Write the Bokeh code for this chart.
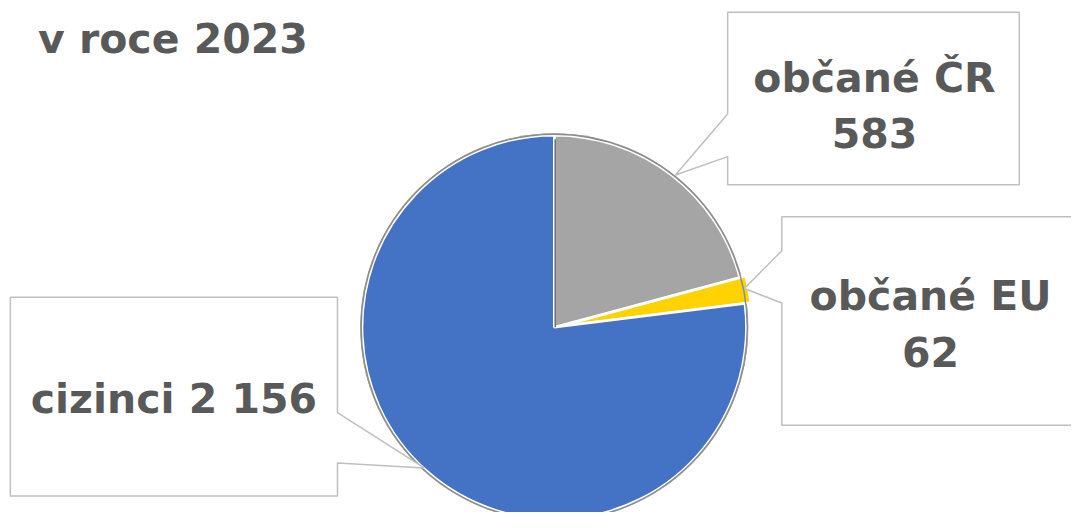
import math
from bokeh.plotting import figure
from bokeh.models import Range1d, ColumnDataSource
from bokeh.core.properties import value
from bokeh.embed import file_html
from bokeh.resources import INLINE

# ---- data ----
categories = ["občané ČR", "občané EU", "cizinci"]
counts = [583, 62, 2156]
colors = ["#A5A5A5", "#FFD200", "#4472C4"]
title_text = "v roce 2023"

W, H = 1071, 512
PW, PH = 1087, 528     # reference picture size

def X(px):
    return px

def Y(py):
    return PH - py

p = figure(width=W, height=H, output_backend="svg", toolbar_location=None,
           x_range=Range1d(0, PW), y_range=Range1d(0, PH),
           x_axis_type=None, y_axis_type=None, min_border=0)
p.grid.visible = False
p.outline_line_color = None
p.background_fill_color = "white"
p.border_fill_color = "white"

# ---- pie ----
cx, cy, r = 562, 337, 195
total = sum(counts)
starts, ends, xs, ys = [], [], [], []
cum = 0.0
explode = [0, 6, 0]
for c, e in zip(counts, explode):
    a0 = math.pi / 2 - 2 * math.pi * cum / total
    cum += c
    a1 = math.pi / 2 - 2 * math.pi * cum / total
    mid = (a0 + a1) / 2
    starts.append(a0)
    ends.append(a1)
    xs.append(X(cx) + e * math.cos(mid))
    ys.append(Y(cy) + e * math.sin(mid))

src = ColumnDataSource(dict(x=xs, y=ys, start=starts, end=ends, color=colors))
p.circle(x=[X(cx)], y=[Y(cy)], radius=r + 2, fill_color="#9a9a9a", line_color=None)
p.wedge(x="x", y="y", radius=r, start_angle="start", end_angle="end",
        direction="clock", fill_color="color", line_color="white",
        line_width=2.5, source=src)
p.circle(x=[X(cx)], y=[Y(cy)], radius=r + 1, fill_color=None,
         line_color="#8c8c8c", line_width=1.5)
# darker edge along the vertical start radius of the grey slice
p.segment(x0=[X(cx) + 1], y0=[Y(cy)], x1=[X(cx) + 1], y1=[Y(cy) + r - 1],
          line_color="#6f6f6f", line_width=1.5)

# ---- callouts (box + pointer), in picture pixels ----
callouts = [
    [(738, 12), (1034, 12), (1034, 190), (738, 190), (738, 161), (685, 180), (738, 117)],
    [(793, 223), (1100, 223), (1100, 438), (793, 438), (793, 312), (755, 297), (793, 258)],
    [(10, 306), (342, 306), (342, 425), (430, 482), (342, 477), (342, 511), (10, 511)],
]
p.patches(xs=[[X(a) for a, b in c] for c in callouts],
          ys=[[Y(b) for a, b in c] for c in callouts],
          fill_color="white", line_color="#BFBFBF", line_width=1.5)

# ---- labels ----
def fmt(n):
    return f"{n:,}".replace(",", " ")

lab_txt = [categories[0], fmt(counts[0]), categories[1], fmt(counts[1]),
           f"{categories[2]} {fmt(counts[2])}"]
lab_x = [887, 887, 944, 944, 176]
lab_y = [80, 137, 305, 362, 411]
p.text(x=[X(v) for v in lab_x], y=[Y(v) for v in lab_y], text=lab_txt,
       text_font=value("DejaVu Sans"), text_font_style="bold",
       text_font_size="41px", text_color="#595959",
       text_align="center", text_baseline="middle")

p.text(x=[X(38)], y=[Y(40)], text=[title_text],
       text_font=value("DejaVu Sans"), text_font_style="bold",
       text_font_size="41px", text_color="#595959",
       text_align="left", text_baseline="middle")

open("out.html", "w").write(file_html(p, INLINE))
